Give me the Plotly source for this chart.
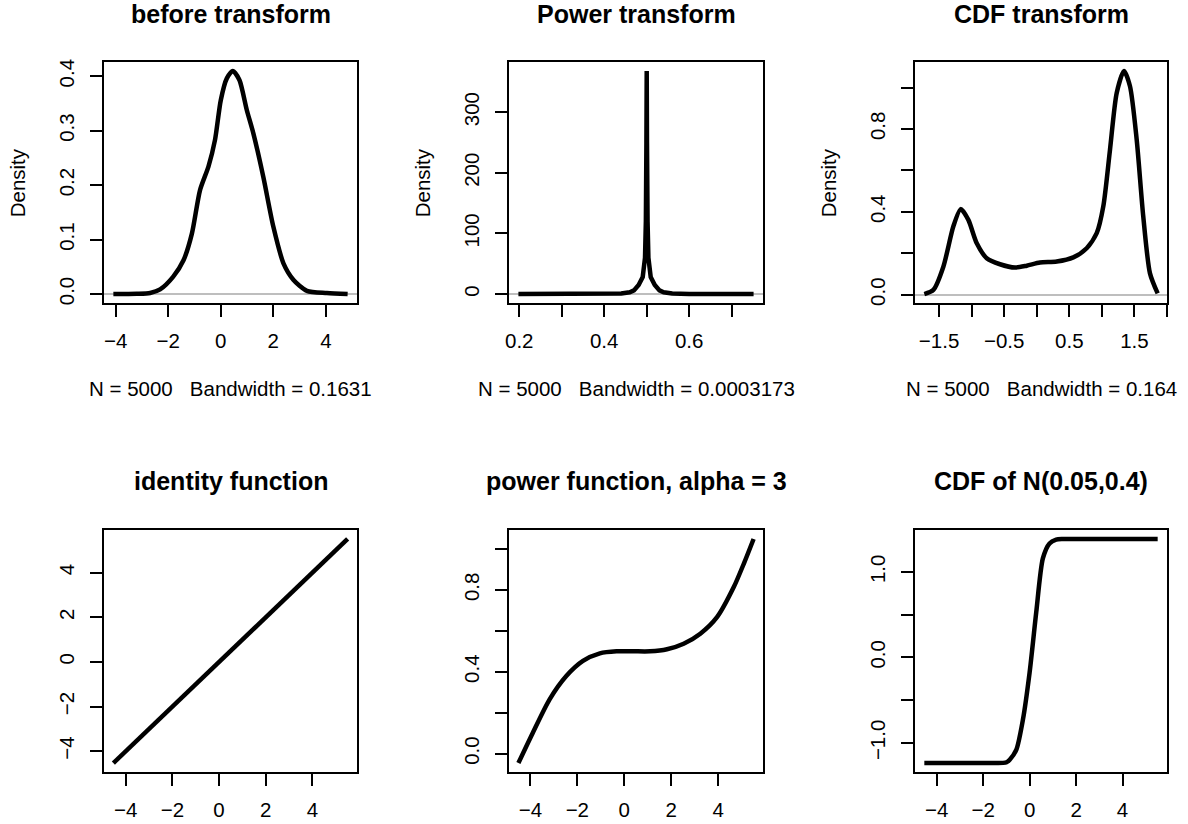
import plotly.graph_objects as go

W, H = 1188, 824
FONT = "Liberation Sans, Arial, Helvetica, sans-serif"
MINUS = "\u2212"

# ---------------- data ----------------
# 1. density before transform
before_x = [-4.09, -3.2, -2.69, -2.31, -1.81, -1.42, -1.10, -0.79, -0.47, -0.22,
            0.0, 0.23, 0.46, 0.71, 0.99, 1.24, 1.62, 2.0, 2.39, 2.77, 3.28, 4.04, 4.83]
before_y = [0.0, 0.0005, 0.002, 0.0086, 0.032, 0.062, 0.111, 0.191, 0.234, 0.283,
            0.356, 0.396, 0.4097, 0.393, 0.338, 0.295, 0.215, 0.124, 0.056, 0.026,
            0.006, 0.002, 0.0]

# 2. density after power transform
power_x = [0.198, 0.40, 0.44, 0.46, 0.47, 0.481, 0.4906, 0.496, 0.498, 0.4993, 0.5,
           0.5007, 0.502, 0.504, 0.5094, 0.519, 0.53, 0.54, 0.56, 0.60, 0.7516]
power_y = [0.0, 0.2, 1.0, 3.0, 6.0, 15, 28, 60, 120, 250, 368,
           250, 120, 60, 28, 15, 6, 3.0, 1.0, 0.2, 0.0]

# 3. density after CDF transform
cdf_x = [-1.726, -1.587, -1.434, -1.28, -1.167, -1.05, -0.921, -0.768, -0.564, -0.333,
         -0.154, 0.05, 0.307, 0.562, 0.767, 0.921, 1.022, 1.125, 1.228, 1.34, 1.432,
         1.535, 1.636, 1.739, 1.857]
cdf_y = [0.003, 0.023, 0.135, 0.33, 0.413, 0.361, 0.248, 0.176, 0.147, 0.131,
         0.14, 0.155, 0.16, 0.18, 0.224, 0.297, 0.426, 0.70, 0.974, 1.08, 1.006,
         0.748, 0.377, 0.103, 0.006]

# 4. identity function
ident_x = [-4.53, -2.0, 0.0, 2.0, 4.0, 5.51]
ident_y = [-4.53, -2.0, 0.0, 2.0, 4.0, 5.51]

# 5. power function, alpha = 3
powf_x = [-4.51, -3.9, -3.18, -2.47, -1.76, -1.04, -0.33, 0.39, 1.1, 1.82, 2.53,
          3.24, 3.96, 4.67, 5.1, 5.51]
powf_y = [-0.046, 0.101, 0.265, 0.379, 0.453, 0.49, 0.50, 0.50, 0.50, 0.51, 0.537,
          0.586, 0.668, 0.815, 0.93, 1.049]

# 6. CDF of N(0.05, 0.4)
cdff_x = [-4.53, -2.5, -1.4, -1.14, -0.99, -0.857, -0.57, -0.286, 0.0, 0.286, 0.57,
          0.857, 1.14, 1.4, 2.5, 5.51]
cdff_y = [-1.235, -1.235, -1.235, -1.233, -1.225, -1.196, -1.078, -0.725, -0.176,
          0.53, 1.157, 1.333, 1.376, 1.384, 1.385, 1.385]

titles = ["before transform", "Power transform", "CDF transform",
          "identity function", "power function, alpha = 3", "CDF of N(0.05,0.4)"]
subs = ["N = 5000   Bandwidth = 0.1631", "N = 5000   Bandwidth = 0.0003173",
        "N = 5000   Bandwidth = 0.164"]

# ticks (values, labels)
x_ticks = [
    ([-4, -2, 0, 2, 4], [MINUS + "4", MINUS + "2", "0", "2", "4"]),
    ([0.2, 0.3, 0.4, 0.5, 0.6, 0.7], ["0.2", "", "0.4", "", "0.6", ""]),
    ([-1.5, -1.0, -0.5, 0.0, 0.5, 1.0, 1.5, 2.0],
     [MINUS + "1.5", "", MINUS + "0.5", "", "0.5", "", "1.5", ""]),
    ([-4, -2, 0, 2, 4], [MINUS + "4", MINUS + "2", "0", "2", "4"]),
    ([-4, -2, 0, 2, 4], [MINUS + "4", MINUS + "2", "0", "2", "4"]),
    ([-4, -2, 0, 2, 4], [MINUS + "4", MINUS + "2", "0", "2", "4"]),
]
y_ticks = [
    ([0.0, 0.1, 0.2, 0.3, 0.4], ["0.0", "0.1", "0.2", "0.3", "0.4"]),
    ([0, 100, 200, 300], ["0", "100", "200", "300"]),
    ([0.0, 0.2, 0.4, 0.6, 0.8, 1.0], ["0.0", "", "0.4", "", "0.8", ""]),
    ([-4, -2, 0, 2, 4], [MINUS + "4", MINUS + "2", "0", "2", "4"]),
    ([0.0, 0.2, 0.4, 0.6, 0.8, 1.0], ["0.0", "", "0.4", "", "0.8", ""]),
    ([-1.0, -0.5, 0.0, 0.5, 1.0], [MINUS + "1.0", "", "0.0", "", "1.0"]),
]

series = [(before_x, before_y, "spline"), (power_x, power_y, "linear"),
          (cdf_x, cdf_y, "spline"), (ident_x, ident_y, "linear"),
          (powf_x, powf_y, "spline"), (cdff_x, cdff_y, "spline")]

# ---------------- layout geometry (pixels) ----------------
col_px = [(104, 357), (509, 763), (915, 1167)]
row_px = [(62, 303), (530, 772)]
title_center_px = [14.5, 480.5]


def pad_range(v):
    lo, hi = min(v), max(v)
    d = (hi - lo) * 0.04
    return [lo - d, hi + d]


fig = go.Figure()
layout = dict(width=W, height=H, margin=dict(l=0, r=0, t=0, b=0, pad=0),
              autosize=False, template="none",
              paper_bgcolor="white", plot_bgcolor="white", showlegend=False,
              font=dict(family=FONT, color="black"))
annotations = []

for i in range(6):
    r, c = divmod(i, 3)
    xs, ys, shape = series[i]
    n = "" if i == 0 else str(i + 1)
    x0, x1 = col_px[c]
    y0, y1 = row_px[r]
    line = dict(color="black", width=4.5, shape=shape)
    if shape == "spline":
        line["smoothing"] = 0.7
    fig.add_trace(go.Scatter(x=xs, y=ys, mode="lines", line=line,
                             xaxis="x" + n, yaxis="y" + n, hoverinfo="skip"))
    common = dict(showline=True, linecolor="black", linewidth=2, mirror=True,
                  ticks="outside", ticklen=12, tickwidth=2, tickcolor="black",
                  showgrid=False, tickmode="array", automargin=False,
                  tickfont=dict(family=FONT, size=20.5, color="black"))
    layout["xaxis" + n] = dict(common, domain=[x0 / W, x1 / W], anchor="y" + n,
                               range=pad_range(xs), zeroline=False,
                               tickvals=x_ticks[i][0], ticktext=x_ticks[i][1],
                               ticklabelstandoff=6)
    layout["yaxis" + n] = dict(common, domain=[1 - y1 / H, 1 - y0 / H], anchor="x" + n,
                               range=pad_range(ys), tickangle=-90,
                               zeroline=(r == 0), zerolinecolor="#BEBEBE",
                               zerolinewidth=1.5,
                               tickvals=y_ticks[i][0], ticktext=y_ticks[i][1],
                               ticklabelstandoff=8)
    cx = (x0 + x1) / 2
    # title
    ty = title_center_px[r]
    annotations.append(dict(text="<b>" + titles[i] + "</b>", xref="paper", yref="paper",
                            x=cx / W, y=1 - ty / H, xanchor="center", yanchor="middle",
                            showarrow=False, borderpad=0, borderwidth=0,
                            font=dict(family=FONT, size=25, color="black")))
    if r == 0:
        annotations.append(dict(text=subs[c], xref="paper", yref="paper",
                                x=cx / W, y=1 - 388.8 / H, xanchor="center",
                                yanchor="middle", showarrow=False,
                                font=dict(family=FONT, size=20.5, color="black")))
        annotations.append(dict(text="Density", xref="paper", yref="paper",
                                x=(x0 - 86.2) / W, y=1 - ((y0 + y1) / 2) / H,
                                xanchor="center", yanchor="middle", textangle=-90,
                                showarrow=False,
                                font=dict(family=FONT, size=20.5, color="black")))

layout["annotations"] = annotations
fig.update_layout(**layout)
fig.write_html("out.html", config={"displayModeBar": False},
               post_script="document.body.style.margin='0px';"
                           "document.body.style.padding='0px';"
                           "document.body.style.overflow='hidden';")
